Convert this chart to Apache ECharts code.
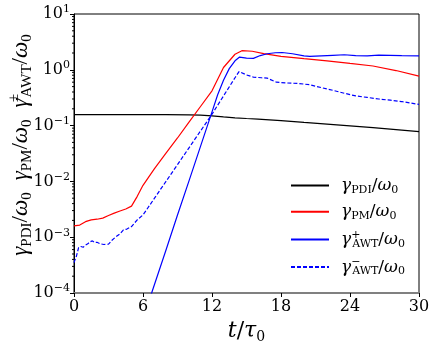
<!DOCTYPE html>
<html>
<head>
<meta charset="utf-8">
<script src="https://cdn.jsdelivr.net/npm/echarts@6/dist/echarts.min.js"></script>
<style>
    html, body { margin: 0; padding: 0; background: #fff; }
    #chart { width: 435px; height: 352px; }
</style>
</head>
<body>
<div id="chart"></div>
<script>
// t / tau0 and growth rates
var tPDI = [0, 2, 4, 6, 8, 10, 11, 12, 13, 14, 15, 16, 18, 20, 22, 24, 26, 28, 30];
var gPDI = [0.157, 0.157, 0.157, 0.157, 0.157, 0.156, 0.154, 0.149, 0.143, 0.138, 0.134, 0.131, 0.123, 0.114, 0.106, 0.099, 0.092, 0.085, 0.078];

var tPM = [0, 0.5, 1, 1.5, 2, 2.5, 3, 3.5, 4, 4.5, 5, 5.5, 6, 7, 8, 9, 10, 11, 12, 13, 14, 14.6, 15.5, 16.5, 18, 20, 22, 24, 26, 28, 30];
var gPM = [1.6e-3, 1.65e-3, 1.9e-3, 2.05e-3, 2.1e-3, 2.2e-3, 2.45e-3, 2.7e-3, 2.95e-3, 3.2e-3, 3.6e-3, 5.4e-3, 8.5e-3, 0.017, 0.032, 0.06, 0.115, 0.22, 0.42, 1.1, 1.9, 2.2, 2.15, 1.95, 1.74, 1.58, 1.45, 1.3, 1.17, 0.97, 0.77];

var tAWTp = [6, 6.75, 8, 9, 10, 11, 12, 12.5, 13, 13.5, 14, 14.4, 15, 15.6, 16.2, 16.8, 17.5, 18.1, 19, 20, 20.5, 21.5, 22.5, 23.5, 24.5, 25.5, 26.5, 27.5, 28.5, 30];
var gAWTp = [3.5e-5, 1e-4, 5.9e-4, 2.5e-3, 0.0102, 0.0425, 0.176, 0.36, 0.65, 1.05, 1.45, 1.69, 1.62, 1.6, 1.8, 1.94, 2.02, 2.04, 1.94, 1.78, 1.74, 1.78, 1.82, 1.86, 1.8, 1.78, 1.83, 1.82, 1.8, 1.78];

var tAWTm = [0, 0.2, 0.4, 0.6, 0.8, 1.0, 1.2, 1.4, 1.6, 1.8, 2.0, 2.3, 2.6, 3.0, 3.3, 3.6, 4.0, 4.3, 4.6, 5.0, 5.5, 6, 7, 8, 9, 10, 11, 12, 13, 14, 14.35, 15, 15.6, 16.3, 16.8, 17.6, 18.5, 19.5, 20.5, 21.5, 22.5, 23.5, 24.5, 25.5, 26.5, 27.5, 28.5, 30];
var gAWTm = [3.5e-4, 4.5e-4, 6.5e-4, 6.8e-4, 6.6e-4, 7.2e-4, 7.6e-4, 8.3e-4, 8.6e-4, 8.0e-4, 8.1e-4, 7.6e-4, 7.4e-4, 7.5e-4, 8.8e-4, 1.0e-3, 1.15e-3, 1.35e-3, 1.4e-3, 1.55e-3, 2.05e-3, 2.5e-3, 5e-3, 0.01, 0.02, 0.04, 0.08, 0.16, 0.34, 0.72, 0.93, 0.81, 0.74, 0.72, 0.71, 0.6, 0.58, 0.57, 0.54, 0.48, 0.43, 0.38, 0.34, 0.32, 0.3, 0.285, 0.27, 0.24];

var xTicks = [0, 6, 12, 18, 24, 30];

function pairs(xs, ys) {
    return xs.map(function (x, i) { return [x, ys[i]]; });
}

// minor ticks of the log axis, 2..9 in every decade
var minorTicks = [];
for (var e = -4; e < 1; e++) {
    for (var m = 2; m <= 9; m++) {
        minorTicks.push([0, m * Math.pow(10, e)]);
    }
}

var serif = 'DejaVu Serif';
var tserif = 'Liberation Serif';

var legendRich = {
    pad: { fontSize: 10, width: 7 },
    g: { fontFamily: serif, fontStyle: 'italic', fontSize: 17, lineHeight: 20, color: '#000' },
    n: { fontFamily: serif, fontSize: 17, lineHeight: 20, color: '#000' },
    sub: { fontFamily: serif, fontSize: 11, lineHeight: 10, verticalAlign: 'bottom', color: '#000' },
    sup: { fontFamily: serif, fontSize: 11, lineHeight: 10, verticalAlign: 'top', width: 1, color: '#000' }
};

var legendText = {
    PDI: '{pad| }{g|γ}{sub|PDI}{n|/}{g|ω}{sub|0}',
    PM: '{pad| }{g|γ}{sub|PM}{n|/}{g|ω}{sub|0}',
    AWTp: '{pad| }{g|γ}{sup|+}{sub|AWT}{n|/}{g|ω}{sub|0}',
    AWTm: '{pad| }{g|γ}{sup|−}{sub|AWT}{n|/}{g|ω}{sub|0}'
};

var chart = echarts.init(document.getElementById('chart'));

var option = {
    animation: false,
    backgroundColor: '#fff',
    grid: {
        left: 74, top: 14, right: 16, bottom: 59,
        show: true, borderColor: '#000', borderWidth: 1,
        outerBoundsMode: 'none'
    },
    legend: {
        orient: 'vertical',
        left: 285, top: 172,
        itemWidth: 38, itemHeight: 14, itemGap: 7.7,
        itemStyle: { opacity: 0 },
        data: ['PDI', 'PM', 'AWTp', 'AWTm'],
        formatter: function (name) { return legendText[name]; },
        textStyle: { rich: legendRich }
    },
    xAxis: {
        type: 'value',
        min: 0, max: 30, interval: 6,
        name: '{i|t}{n|/}{i|τ}{s|0}',
        nameLocation: 'middle',
        nameGap: 22,
        nameTextStyle: {
            rich: {
                i: { fontFamily: serif, fontStyle: 'italic', fontSize: 22, lineHeight: 26, color: '#000' },
                n: { fontFamily: serif, fontSize: 22, lineHeight: 26, color: '#000' },
                s: { fontFamily: serif, fontSize: 14, lineHeight: 14, verticalAlign: 'bottom', color: '#000' }
            }
        },
        axisLine: { lineStyle: { color: '#808080', width: 2 } },
        axisTick: { length: 4, lineStyle: { color: '#000' } },
        axisLabel: {
            fontFamily: serif, fontSize: 16, color: '#000', margin: 6,
            customValues: xTicks
        },
        splitLine: { show: false }
    },
    yAxis: {
        type: 'log',
        logBase: 10,
        min: 1e-4, max: 10,
        axisLine: { lineStyle: { color: '#000' } },
        axisTick: { length: 4, lineStyle: { color: '#000' } },
        axisLabel: {
            margin: 4,
            formatter: function (v) {
                var p = Math.round(Math.log10(v));
                return '{b|10}{s|' + (p < 0 ? '−' + (-p) : p) + '}';
            },
            rich: {
                b: { fontFamily: serif, fontSize: 16, lineHeight: 20, color: '#000' },
                s: { fontFamily: serif, fontSize: 11, lineHeight: 11, verticalAlign: 'top', color: '#000' }
            }
        },
        splitLine: { show: false }
    },
    graphic: [{
        type: 'text',
        x: 21, y: 145,
        rotation: Math.PI / 2,
        style: {
            text: '{g|γ}{sub|PDI}{n|/}{g|ω}{sub|0}{gap| }{g|γ}{sub|PM}{n|/}{g|ω}{sub|0}{gap| }{g|γ}{sup|±}{sub|AWT}{n|/}{g|ω}{sub|0}',
            align: 'center',
            verticalAlign: 'middle',
            rich: {
                gap: { fontSize: 10, width: 12 },
                g: { fontFamily: tserif, fontStyle: 'italic', fontSize: 23, lineHeight: 28, fill: '#000' },
                n: { fontFamily: tserif, fontSize: 23, lineHeight: 28, fill: '#000' },
                sub: { fontFamily: tserif, fontSize: 15, lineHeight: 14, verticalAlign: 'bottom', fill: '#000' },
                sup: { fontFamily: tserif, fontSize: 15, lineHeight: 14, verticalAlign: 'top', width: 1, fill: '#000' }
            }
        }
    }],
    series: [
        {
            name: 'PDI', type: 'line', symbol: 'none',
            lineStyle: { color: '#000', width: 1.2 }, itemStyle: { color: '#000' },
            data: pairs(tPDI, gPDI)
        },
        {
            name: 'PM', type: 'line', symbol: 'none',
            lineStyle: { color: '#ff0000', width: 1.2 }, itemStyle: { color: '#ff0000' },
            data: pairs(tPM, gPM)
        },
        {
            name: 'AWTp', type: 'line', symbol: 'none',
            lineStyle: { color: '#0000ff', width: 1.2 }, itemStyle: { color: '#0000ff' },
            data: pairs(tAWTp, gAWTp)
        },
        {
            name: 'AWTm', type: 'line', symbol: 'none',
            lineStyle: { color: '#0000ff', width: 1.2, type: [4, 2] }, itemStyle: { color: '#0000ff' },
            data: pairs(tAWTm, gAWTm)
        },
        {
            // minor log ticks on the left axis
            type: 'custom', silent: true,
            data: minorTicks,
            renderItem: function (params, api) {
                var p = api.coord([0, api.value(1)]);
                return {
                    type: 'line',
                    shape: { x1: p[0] - 2, y1: p[1], x2: p[0], y2: p[1] },
                    style: { stroke: '#000', lineWidth: 1 }
                };
            }
        }
    ]
};

chart.setOption(option);
</script>
</body>
</html>
